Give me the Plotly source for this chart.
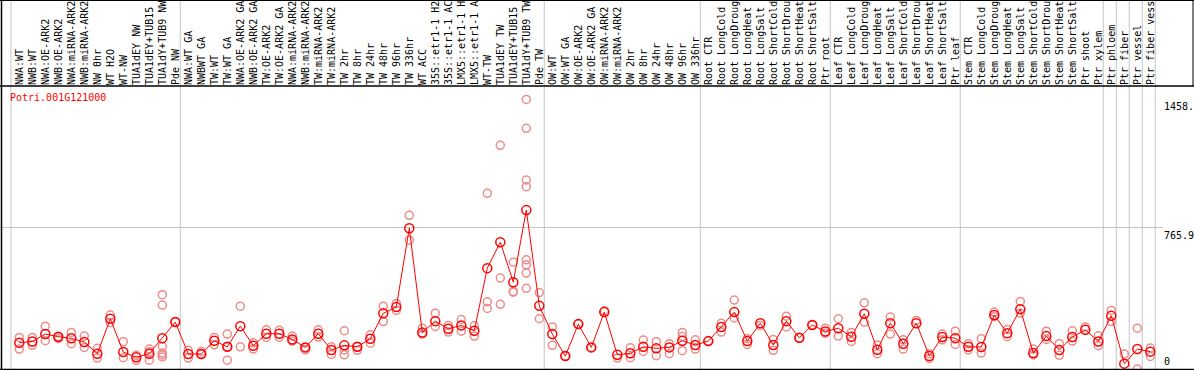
import plotly.graph_objects as go

# ---------------- data ----------------
categories = [
    "NWA:WT", "NWB:WT", "NWA:OE-ARK2", "NWB:OE-ARK2", "NWA:miRNA-ARK2", "NWB:miRNA-ARK2",
    "NW 0hr", "WT H2O", "WT-NW", "TUA1dEY NW", "TUA1dEY+TUB15 NW", "TUA1dY+TUB9 NW", "Pde NW",
    "NWA:WT GA", "NWBWT GA", "TW:WT", "TW:WT GA", "NWA:OE-ARK2 GA", "NWB:OE-ARK2 GA",
    "TW:OE-ARK2", "TW:OE-ARK2 GA", "NWA:miRNA-ARK2", "NWB:miRNA-ARK2", "TW:miRNA-ARK2",
    "TW:miRNA-ARK2", "TW 2hr", "TW 8hr", "TW 24hr", "TW 48hr", "TW 96hr", "TW 336hr", "WT ACC",
    "35S::etr1-1 H2O", "35S::etr1-1 ACC", "LMX5::etr1-1 H2O", "LMX5::etr1-1 ACC", "WT-TW",
    "TUA1dEY TW", "TUA1dEY+TUB15 TW", "TUA1dY+TUB9 TW", "Pde TW",
    "OW:WT", "OW:WT GA", "OW:OE-ARK2", "OW:OE-ARK2 GA", "OW:miRNA-ARK2", "OW:miRNA-ARK2",
    "OW 2hr", "OW 8hr", "OW 24hr", "OW 48hr", "OW 96hr", "OW 336hr",
    "Root CTR", "Root LongCold", "Root LongDrought", "Root LongHeat", "Root LongSalt",
    "Root ShortCold", "Root ShortDrought", "Root ShortHeat", "Root ShortSalt", "Ptr root",
    "Leaf CTR", "Leaf LongCold", "Leaf LongDrought", "Leaf LongHeat", "Leaf LongSalt",
    "Leaf ShortCold", "Leaf ShortDrought", "Leaf ShortHeat", "Leaf ShortSalt", "Ptr leaf",
    "Stem CTR", "Stem LongCold", "Stem LongDrought", "Stem LongHeat", "Stem LongSalt",
    "Stem ShortCold", "Stem ShortDrought", "Stem ShortHeat", "Stem ShortSalt", "Ptr shoot",
    "Ptr xylem",
    "Ptr phloem", "Ptr fiber", "Ptr vessel", "Ptr fiber vessel",
]

group_sizes = [13, 28, 12, 10, 10, 11, 1, 1, 1, 1]

mean_values = [
    142, 149, 189, 175, 166, 146, 83, 272, 92, 63, 83, 167, 254,
    81, 81, 153, 120, 232, 126, 191, 191, 160, 117, 191, 103, 128, 120, 164, 302, 335, 762,
    198, 259, 218, 236, 207, 546, 686, 470, 860, 342,
    189, 70, 243, 117, 308, 77, 85, 120, 112, 117, 153, 130,
    151, 227, 308, 151, 248, 130, 259, 169, 238, 203,
    221, 175, 299, 104, 248, 137, 248, 70, 173, 167,
    120, 119, 292, 194, 324, 86, 178, 103, 173, 212, 149,
    288, 29, 108, 94,
]

replicate_values = [
    [171, 108], [171, 128], [232, 153], [175, 164], [198, 137], [178, 117], [112, 59],
    [292, 252], [148, 61], [74, 47], [108, 94, 48], [402, 346, 122, 86, 76, 65], [254],
    [101, 59], [95, 81], [171, 131], [189, 48, 120], [340, 120], [142, 108], [212, 171],
    [210, 171], [178, 151], [104, 117], [212, 173], [120, 79], [207, 77, 103], [101, 120],
    [185, 140], [340, 257], [355, 317], [832, 697], [221, 189], [302, 230], [236, 200],
    [268, 205], [234, 178], [951, 364, 328], [1211, 492, 350], [578, 420, 416],
    [1458.9, 1303, 1023, 987, 591, 564, 519, 437], [414, 272],
    [228, 128], [70], [243], [117], [315], [59], [115, 61], [157, 95], [148, 72], [137, 83],
    [198, 176, 99], [158, 108],
    [151], [247, 200], [373, 276], [164, 133], [236], [160, 101], [286, 228], [169], [238],
    [221, 194],
    [272, 178], [198, 149], [358, 254], [130, 83], [281, 189], [158, 108], [263], [83, 57],
    [189, 158], [205, 133],
    [137, 103], [164, 86], [308, 283], [214, 175], [366, 302], [108, 76], [205, 160],
    [137, 74], [207, 151], [228], [180, 126],
    [317, 257], [81], [221, 0], [113, 68],
]

gene_name = "Potri.001G121000"
y_tick_values = [0, 765.9, 1458.9]
y_tick_labels = ["0", "765.9", "1458."]

# ---------------- layout constants ----------------
W, H = 1194, 370
ML, MR, MT, MB = 1, 34, 86, 1
PW, PH = W - ML - MR, H - MT - MB

def px_x(p):
    return (p - ML) / PW

def px_y(p):
    return (H - MB - p) / PH

FONT = "DejaVu Sans Mono"
RED = "#ff0000"
PINK = "#ec8c8c"
GRAY = "#c4c4c4"

x_idx = list(range(len(categories)))
rep_x, rep_y = [], []
for i, reps in zip(x_idx, replicate_values):
    for v in reps:
        rep_x.append(i)
        rep_y.append(v)

y_top = max(rep_y + mean_values) * 1.05

fig = go.Figure()
fig.add_trace(go.Scatter(
    x=rep_x, y=rep_y, mode="markers",
    marker=dict(symbol="circle-open", size=8, color=PINK, line=dict(width=1.5, color=PINK)),
    hoverinfo="skip", showlegend=False, cliponaxis=False,
))
fig.add_trace(go.Scatter(
    x=x_idx, y=mean_values, mode="lines+markers",
    line=dict(color=RED, width=1),
    marker=dict(symbol="circle-open", size=9, color=RED, line=dict(width=1.5, color=RED)),
    showlegend=False, cliponaxis=False,
))

shapes = []
# group separator lines (through label area too)
boundaries = [-0.64]
pos = -1
for g in group_sizes:
    pos += g
    boundaries.append(pos + 0.38)
for b in boundaries:
    shapes.append(dict(type="line", xref="x", yref="paper", x0=b, x1=b,
                       y0=0, y1=px_y(0), line=dict(color=GRAY, width=1), layer="below"))
# horizontal mid gridline
shapes.append(dict(type="line", xref="paper", yref="y", x0=px_x(0), x1=px_x(1163),
                   y0=y_tick_values[1], y1=y_tick_values[1],
                   line=dict(color=GRAY, width=1), layer="below"))
# black frame lines
blk = dict(color="black", width=1)
shapes += [
    dict(type="line", xref="paper", yref="paper", x0=px_x(1.5), x1=px_x(1.5),
         y0=px_y(0), y1=px_y(369.5), line=dict(color="black", width=1.5)),
    dict(type="line", xref="paper", yref="paper", x0=px_x(0), x1=px_x(W),
         y0=px_y(369.5), y1=px_y(369.5), line=dict(color="black", width=1.5)),
    dict(type="line", xref="paper", yref="paper", x0=px_x(0), x1=px_x(W),
         y0=px_y(86), y1=px_y(86), line=dict(color="black", width=1.5)),
    dict(type="line", xref="paper", yref="paper", x0=px_x(1193), x1=px_x(1193),
         y0=px_y(0), y1=px_y(86), line=blk),
    dict(type="line", xref="paper", yref="paper", x0=px_x(0), x1=px_x(W),
         y0=px_y(0.5), y1=px_y(0.5), line=blk),
]

annotations = [
    dict(text=gene_name, xref="paper", yref="paper", x=px_x(8), y=px_y(97),
         xanchor="left", yanchor="middle", showarrow=False,
         font=dict(family=FONT, size=10, color=RED)),
]
for v, t in zip(y_tick_values, y_tick_labels):
    annotations.append(dict(
        text=t, xref="paper", yref="y", x=px_x(1162), y=v,
        xanchor="left", yanchor="bottom" if v == 0 else "top", showarrow=False,
        font=dict(family=FONT, size=10, color="black"),
    ))

fig.update_layout(
    template="none",
    width=W, height=H,
    margin=dict(l=ML, r=MR, t=MT, b=MB, pad=0),
    paper_bgcolor="white", plot_bgcolor="white",
    xaxis=dict(
        range=[(1 - 19.3) / 13, (1160 - 19.3) / 13],
        side="top", tickmode="array", tickvals=x_idx, ticktext=categories,
        tickangle=-90, ticks="", showgrid=False, zeroline=False, showline=False,
        tickfont=dict(family=FONT, size=10, color="black"), automargin=False,
    ),
    yaxis=dict(range=[0, y_top], visible=False, showgrid=False, zeroline=False),
    shapes=shapes,
    annotations=annotations,
    showlegend=False,
)

fig.write_html(
    "out.html",
    config={"displayModeBar": False},
    post_script="document.body.style.margin='0';document.body.style.overflow='hidden';",
)
